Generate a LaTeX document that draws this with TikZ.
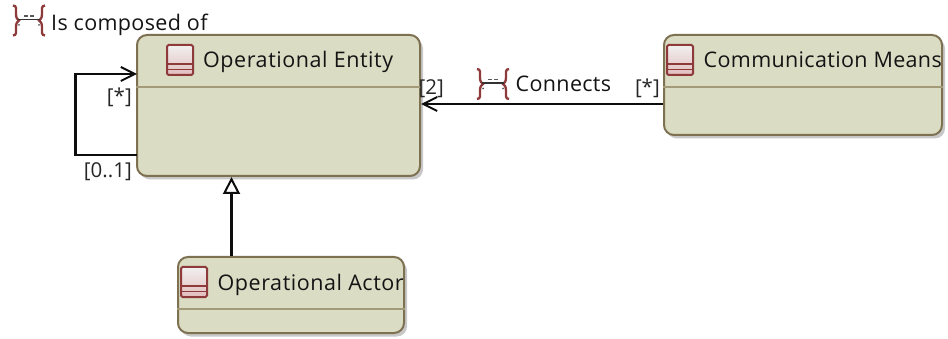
\documentclass[tikz,border=0pt]{standalone}
\usepackage{fontspec}
\setmainfont{Open Sans}
\newfontfamily\widefont[LetterSpace=2.6]{Open Sans}
\newfontfamily\midfont[LetterSpace=1.6]{Open Sans}
\usetikzlibrary{arrows.meta,calc}
\definecolor{boxfill}{HTML}{DBDCC4}
\definecolor{boxline}{HTML}{7D7152}
\definecolor{sepline}{HTML}{A29A78}
\definecolor{iconred}{HTML}{8E3A3A}
\definecolor{icontop}{HTML}{F2F0F0}
\definecolor{iconlow}{HTML}{E2BDBD}
\definecolor{shadowc}{HTML}{C8C8C8}
\tikzset{
 x=1pt,y=-1pt,
 classbox/.style={draw=boxline,line width=2pt,fill=boxfill,rounded corners=10pt,inner sep=0pt,
   preaction={draw=none,fill=shadowc,transform canvas={shift={(3pt,-3.5pt)}}}},
 sep/.style={draw=sepline,line width=1.2pt},
 title/.style={font=\widefont\fontsize{21.5}{24}\selectfont,text=black!92,inner sep=0pt,anchor=base west},
 card/.style={font=\fontsize{20.5}{22}\selectfont,text=black!85,inner sep=0pt,anchor=base east},
 rel/.style={font=\midfont\fontsize{21.5}{24}\selectfont,text=black!92,inner sep=0pt,anchor=base west},
 conn/.style={draw=black!95,line width=2.2pt},
 openhead/.style={-{Straight Barb[length=14pt,width=14pt,line width=2pt]}},
 trihead/.style={-{Triangle[open,length=17pt,width=17pt,line width=2pt,fill=white]}},
 classicon/.pic={
  \path[top color=icontop,bottom color=iconlow,rounded corners=1.5pt] (0,0) rectangle (26,30);
  \draw[iconred,line width=2pt,rounded corners=1.5pt] (0,0) rectangle (26,30);
  \draw[iconred,line width=1.8pt] (0,19) -- (26,19) (0,24.5) -- (26,24.5);
 },
 relicon/.pic={
  \draw[iconred,line width=2.3pt] (0,0) .. controls (4,0) and (3,4) .. (3,8) .. controls (3,12) and (4,14) .. (6,15) .. controls (4,16) and (3,18) .. (3,22) .. controls (3,26) and (4,30) .. (0,30);
  \draw[iconred,line width=2.3pt] (32,0) .. controls (28,0) and (29,4) .. (29,8) .. controls (29,12) and (28,14) .. (26,15) .. controls (28,16) and (29,18) .. (29,22) .. controls (29,26) and (28,30) .. (32,30);
  \draw[black!80,line width=1.8pt] (5,14) -- (27,14);
  \draw[black!65,line width=1.6pt] (11,10.5) -- (15,10.5) (17,10.5) -- (21,10.5);
  \fill[black!65] (6,19.5) circle (1) (26,19.5) circle (1);
 }
}
\begin{document}
\begin{tikzpicture}
\useasboundingbox (0,0) rectangle (948,339);
\node[classbox,minimum width=283pt,minimum height=141pt] (entity) at (278.5,105.5) {};
\node[classbox,minimum width=278pt,minimum height=100pt] (comm) at (803,85) {};
\node[classbox,minimum width=226pt,minimum height=76pt] (actor) at (291,295) {};
\draw[sep] (entity.west |- 0,87) -- (entity.east |- 0,87);
\draw[sep] (comm.west |- 0,87) -- (comm.east |- 0,87);
\draw[sep] (actor.west |- 0,309) -- (actor.east |- 0,309);
\pic at (167,45) {classicon};
\pic at (667,45) {classicon};
\pic at (181,267) {classicon};
\node[title] (entitytitle) at (203,68) {Operational Entity};
\node[title,font=\midfont\fontsize{21.5}{24}\selectfont] (commtitle) at (703.5,68) {Communication Means};
\node[title] (actortitle) at (217.5,290.5) {Operational Actor};
\pic at (13,5.5) {relicon};
\node[rel] (composed) at (51,30.5) {Is composed of};
\pic at (477,69) {relicon};
\node[rel] (connects) at (515.5,92) {Connects};
\coordinate (loopout) at (137,155);
\coordinate (loopin) at (137,74);
\draw[conn,openhead] (loopout) -- (75.5,155) -- (75.5,74) -- (loopin);
\draw[conn,openhead] (comm.west |- 0,104) -- (entity.east |- 0,104);
\draw[conn,trihead] (actor.north -| 231.5,0) -- (entity.south -| 231.5,0);
\node[card] (cardstar) at (132,104) {[*]};
\node[card] (cardzero) at (132,178) {[0..1]};
\node[card] (cardtwo) at (444,95) {[2]};
\node[card] (cardmany) at (660,95) {[*]};
\end{tikzpicture}
\end{document}
